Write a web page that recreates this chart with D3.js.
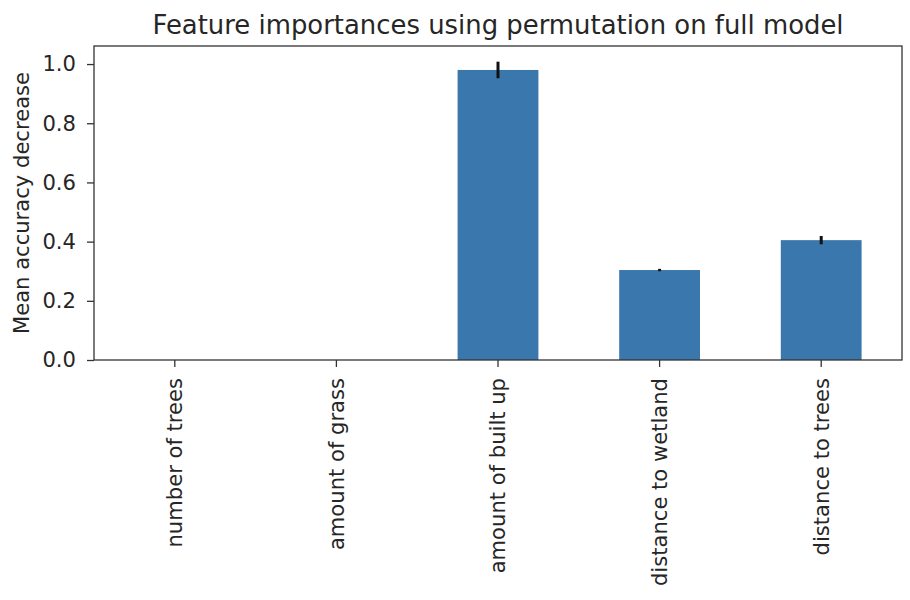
<!DOCTYPE html>
<html>
<head>
<meta charset="utf-8">
<script src="https://cdn.jsdelivr.net/npm/d3@7"></script>
<style>
  body { margin: 0; background: #fff; }
  text { font-family: "DejaVu Sans", sans-serif; fill: #262626; }
</style>
</head>
<body>
<div id="vis"></div>
<script>
// chart data
var features = ["number of trees", "amount of grass", "amount of built up", "distance to wetland", "distance to trees"];
var importances = [0, 0, 0.980, 0.304, 0.405];
var errors = [0, 0, 0.028, 0.004, 0.014];
var yTicks = [0, 0.2, 0.4, 0.6, 0.8, 1.0];

var width = 910;
var height = 600;
var margin = { top: 46, left: 94, bottom: 240, right: 8 };
var innerW = width - margin.left - margin.right;
var innerH = height - margin.top - margin.bottom;
var tickFont = "21.1px";

var svg = d3.select("#vis").append("svg")
  .attr("width", width)
  .attr("height", height);

var g = svg.append("g")
  .attr("transform", "translate(" + margin.left + "," + margin.top + ")");

// band scale, bars take half of each slot like pandas
var x = d3.scaleBand()
  .domain(features)
  .range([0, innerW])
  .paddingInner(0.5)
  .paddingOuter(0.25);

var y = d3.scaleLinear()
  .domain([0, 1.061])
  .range([innerH, 0]);

// bars
g.selectAll(".bar")
  .data(features)
  .enter().append("rect")
  .attr("class", "bar")
  .attr("x", function (d) { return x(d); })
  .attr("y", function (d, i) { return y(importances[i]); })
  .attr("width", x.bandwidth())
  .attr("height", function (d, i) { return innerH - y(importances[i]); })
  .attr("fill", "#3a77ad");

// error bars
g.selectAll(".err")
  .data(features)
  .enter().append("line")
  .attr("class", "err")
  .attr("x1", function (d) { return x(d) + x.bandwidth() / 2; })
  .attr("x2", function (d) { return x(d) + x.bandwidth() / 2; })
  .attr("y1", function (d, i) { return y(importances[i] - errors[i]); })
  .attr("y2", function (d, i) { return y(importances[i] + errors[i]); })
  .attr("stroke", "#111")
  .attr("stroke-width", 3)
  .attr("opacity", function (d, i) { return errors[i] > 0 ? 1 : 0; });

// y axis
var yAxis = g.append("g")
  .call(d3.axisLeft(y).tickValues(yTicks).tickFormat(d3.format(".1f")).tickSize(7).tickPadding(11));
yAxis.select(".domain").remove();
yAxis.selectAll("line").attr("stroke", "#333").attr("stroke-width", 1.3);
yAxis.selectAll("text").style("font-size", tickFont).style("font-family", "DejaVu Sans").attr("fill", "#262626");

// x axis
var xAxis = g.append("g")
  .attr("transform", "translate(0," + innerH + ")")
  .call(d3.axisBottom(x).tickSize(7).tickSizeOuter(0));
xAxis.select(".domain").remove();
xAxis.selectAll("line").attr("stroke", "#333").attr("stroke-width", 1.3);
xAxis.selectAll("text")
  .style("font-size", tickFont)
  .style("font-family", "DejaVu Sans")
  .attr("fill", "#262626")
  .attr("text-anchor", "end")
  .attr("transform", "rotate(-90)")
  .attr("x", -18)
  .attr("y", 0)
  .attr("dy", "0.35em");

// frame
g.append("rect")
  .attr("width", innerW)
  .attr("height", innerH)
  .attr("fill", "none")
  .attr("stroke", "#333")
  .attr("stroke-width", 1.3);

// title
svg.append("text")
  .attr("x", margin.left + innerW / 2)
  .attr("y", 34)
  .attr("text-anchor", "middle")
  .style("font-size", "25.9px")
  .text("Feature importances using permutation on full model");

// y label
svg.append("text")
  .attr("transform", "translate(28.5," + (margin.top + innerH / 2) + ") rotate(-90)")
  .attr("text-anchor", "middle")
  .style("font-size", tickFont)
  .text("Mean accuracy decrease");
</script>
</body>
</html>
